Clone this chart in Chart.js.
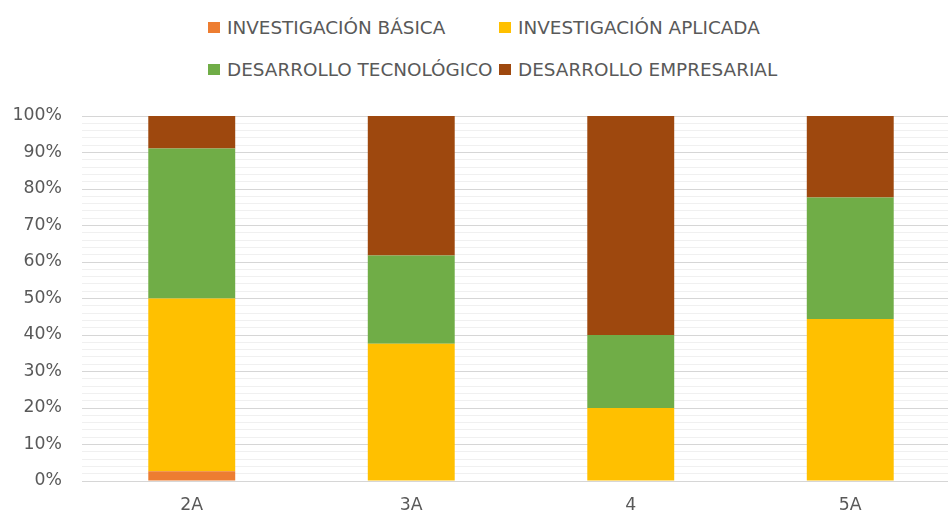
<!DOCTYPE html>
<html>
<head>
<meta charset="utf-8">
<script src="https://cdn.jsdelivr.net/npm/chart.js@4.4.0/dist/chart.umd.min.js"></script>
<style>
  html, body { margin:0; padding:0; background:#fff; overflow:hidden; }
  #wrap { position:relative; width:948px; height:515px; overflow:hidden; }
  #cv { position:absolute; left:0; top:0; }
  .leg { position:absolute; display:flex; align-items:center; font-family:'DejaVu Sans',sans-serif;
         font-size:18.4px; color:#595959; white-space:nowrap; height:22px; }
  .leg i { display:inline-block; width:12px; height:11px; margin-right:7px; }
</style>
</head>
<body>
<div id="wrap">
  <div id="legend"></div>
  <canvas id="cv" width="960" height="515"></canvas>
</div>
<script>
// ============ DATA ============
const categories = ['2A', '3A', '4', '5A'];
const seriesNames = ['INVESTIGACIÓN BÁSICA', 'INVESTIGACIÓN APLICADA', 'DESARROLLO TECNOLÓGICO', 'DESARROLLO EMPRESARIAL'];
const seriesColors = ['#ED7D31', '#FFC000', '#70AD47', '#9E480E'];
const basica      = [2.7, 0, 0, 0];
const aplicada    = [47.3, 37.6, 20, 44.4];
const tecnologico = [41.1, 24.2, 20, 33.3];
const empresarial = [8.9, 38.2, 60, 22.3];
const seriesValues = [basica, aplicada, tecnologico, empresarial];

// ============ LEGEND (two aligned columns, like the original) ============
const legCols = [208, 499];
const legRows = [16, 58];
const legBox = document.getElementById('legend');
seriesNames.forEach((name, i) => {
  const d = document.createElement('div');
  d.className = 'leg';
  d.style.left = legCols[i % 2] + 'px';
  d.style.top = legRows[Math.floor(i / 2)] + 'px';
  d.innerHTML = `<i style="background:${seriesColors[i]}"></i>${name}`;
  legBox.appendChild(d);
});

// ============ CHART ============
const tickFont = {family:'DejaVu Sans', size:17.3};

new Chart(document.getElementById('cv'), {
  type: 'bar',
  data: {
    labels: categories,
    datasets: seriesNames.map((name, i) => ({
      label: name,
      data: seriesValues[i],
      backgroundColor: seriesColors[i],
      borderWidth: 0,
      barPercentage: 0.396,
      categoryPercentage: 1
    }))
  },
  options: {
    responsive: false,
    animation: false,
    layout: {padding: {top: 116, left: 0, right: 0, bottom: 0}},
    plugins: {legend: {display: false}, tooltip: {enabled: false}},
    scales: {
      x: {
        stacked: true,
        afterFit: s => { s.height = 34; },
        grid: {display: false, drawTicks: false},
        border: {display: false},
        ticks: {color: '#595959', font: tickFont, padding: 14}
      },
      y: {
        stacked: true,
        min: 0, max: 100,
        afterFit: s => { s.width = 82; },
        border: {display: false},
        grid: {
          drawTicks: false,
          color: c => (c.tick && c.tick.value % 10 === 0) ? '#d6d6d6' : '#f0f0f0',
          lineWidth: 1
        },
        ticks: {
          stepSize: 2,
          autoSkip: false,
          maxTicksLimit: 100,
          padding: 20,
          color: '#595959',
          font: tickFont,
          callback: v => v % 10 === 0 ? v + '%' : ''
        }
      }
    }
  }
});
</script>
</body>
</html>
